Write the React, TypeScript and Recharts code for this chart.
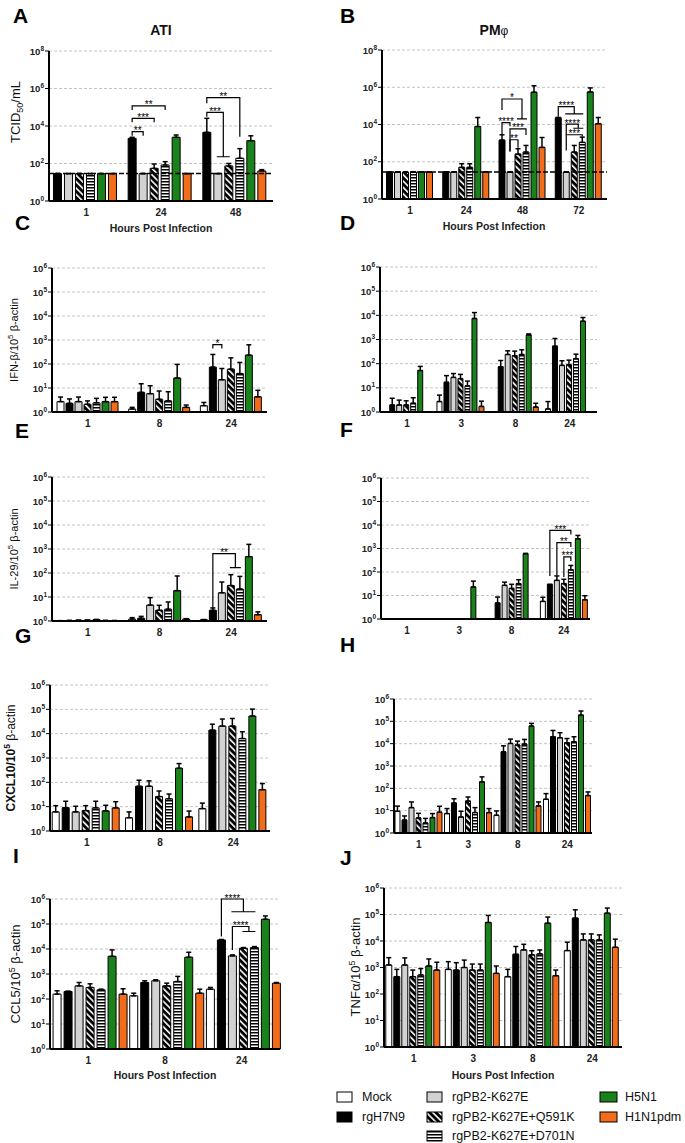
import React from "react";
import { Bar, BarChart, ErrorBar, Rectangle, ReferenceLine, XAxis, YAxis } from "recharts";

const FONT = '"Liberation Sans", Arial, Helvetica, sans-serif';

const SERIES = ["Mock", "rgH7N9", "rgPB2-K627E", "rgPB2-K627E+Q591K", "rgPB2-K627E+D701N", "H5N1", "H1N1pdm"];
const FILLS = ["#ffffff", "#000000", "#d2d2d2", "url(#diag)", "url(#hstripe)", "#1a821a", "#f26c1a"];

// titre panels have no mock bar
const VIRUSES = [1, 2, 3, 4, 5, 6];
const ALL = [0, 1, 2, 3, 4, 5, 6];

type Sig = { at: number; from: number; to: number[]; top: number; l: number; r: number; text: string };

// A - ATI, TCID50/mL (rows: rgH7N9, K627E, +Q591K, +D701N, H5N1, H1N1pdm)
const A_TIMES = ["1", "24", "48"];
const A_MEAN = [
  [29, 2200, 4600],
  [29, 29, 29],
  [29, 55, 74],
  [29, 83, 190],
  [29, 2500, 1650],
  [29, 29, 40],
];
const A_HIGH = [
  [29, 2500, 25700],
  [29, 29, 29],
  [29, 94, 100],
  [29, 125, 620],
  [29, 3300, 3000],
  [29, 29, 47],
];
const A_LIMIT = 29;
// bracket levels are log10 values
const A_SIG: Sig[] = [
  { at: 1, from: 0, to: [1], top: 3.7, l: 3.48, r: 3.48, text: "**" },
  { at: 1, from: 0, to: [2], top: 4.41, l: 4.2, r: 4.2, text: "***" },
  { at: 1, from: 0, to: [3], top: 5.07, l: 4.85, r: 4.85, text: "**" },
  { at: 2, from: 0, to: [3], top: 5.51, l: 5.21, r: 3.43, text: "**" },
  { at: 2, from: 0, to: [1, 2], top: 4.73, l: 4.5, r: 2.36, text: "***" },
];

// B - PMphi, TCID50/mL
const B_TIMES = ["1", "24", "48", "72"];
const B_MEAN = [
  [28, 28, 1450, 23000],
  [28, 28, 28, 28],
  [28, 50, 257, 330],
  [28, 50, 330, 1100],
  [28, 7800, 540000, 560000],
  [28, 28, 590, 11000],
];
const B_HIGH = [
  [28, 28, 2800, 24000],
  [28, 28, 28, 28],
  [28, 78, 500, 750],
  [28, 78, 750, 2100],
  [28, 23700, 1200000, 920000],
  [28, 28, 2000, 23700],
];
const B_LIMIT = 28;
const B_SIG: Sig[] = [
  { at: 2, from: 0, to: [2, 3], top: 5.37, l: 4.78, r: 4.3, text: "*" },
  { at: 2, from: 0, to: [1], top: 4.1, l: 3.44, r: 3.9, text: "****" },
  { at: 2, from: 1, to: [3], top: 3.76, l: 2.55, r: 3.44, text: "***" },
  { at: 2, from: 1, to: [2], top: 3.18, l: 2.55, r: 2.75, text: "**" },
  { at: 3, from: 0, to: [1, 2, 3], top: 4.96, l: 4.42, r: 4.57, text: "****" },
  { at: 3, from: 1, to: [2, 3], top: 4.02, l: 3.44, r: 3.8, text: "****" },
  { at: 3, from: 1, to: [3], top: 3.45, l: 2.6, r: 3.36, text: "***" },
];

// C - ATI IFN-beta (rows: Mock, rgH7N9, K627E, +Q591K, +D701N, H5N1, H1N1pdm)
const C_TIMES = ["1", "8", "24"];
const C_MEAN = [
  [2.7, 1.33, 1.83],
  [2.3, 6.6, 74],
  [2.7, 5.8, 22],
  [2.1, 3.4, 61],
  [2.4, 2.9, 40],
  [2.7, 26, 234],
  [2.7, 1.56, 4.3],
];
const C_HIGH = [
  [4.2, 1.56, 2.5],
  [3.5, 15, 250],
  [4.2, 12.4, 65],
  [2.9, 7.5, 180],
  [3.7, 7, 116],
  [4.1, 96, 630],
  [4.1, 1.95, 8],
];
const C_SIG: Sig[] = [{ at: 2, from: 1, to: [2], top: 2.81, l: 2.65, r: 2.65, text: "*" }];

// D - PMphi IFN-beta
const D_TIMES = ["1", "3", "8", "24"];
const D_MEAN = [
  [1, 2.7, 1, 1.33],
  [1.95, 17, 74, 530],
  [1.95, 27, 240, 85],
  [1.95, 24, 213, 90],
  [2.3, 12, 240, 160],
  [52, 7400, 1550, 5700],
  [1, 1.7, 1.6, 1],
];
const D_HIGH = [
  [1, 5, 1, 2.7],
  [3.7, 32, 135, 1100],
  [3.1, 39, 340, 132],
  [2.9, 36, 330, 140],
  [3.9, 19, 375, 247],
  [77, 13000, 1700, 8100],
  [1, 2.8, 2.3, 1],
];

// E - ATI IL-29
const E_TIMES = ["1", "8", "24"];
const E_MEAN = [
  [1.03, 1.2, 1.14],
  [1.05, 1.3, 2.8],
  [1.07, 4.6, 15],
  [1.08, 2.8, 30],
  [1.15, 3.1, 21.5],
  [1.05, 18.4, 480],
  [1.04, 1.2, 1.83],
];
const E_HIGH = [
  [1.03, 1.38, 1.14],
  [1.05, 1.56, 3.5],
  [1.07, 9.4, 42],
  [1.08, 4.5, 85],
  [1.15, 6.2, 72],
  [1.05, 75, 1560],
  [1.04, 1.25, 2.4],
];
const E_SIG: Sig[] = [{ at: 2, from: 1, to: [3, 4], top: 2.81, l: 0.51, r: 2.22, text: "**" }];

// F - PMphi IL-29
const F_TIMES = ["1", "3", "8", "24"];
const F_MEAN = [
  [1, 1, 1, 5.6],
  [1, 1, 4.8, 29],
  [1, 1, 27, 44],
  [1, 1, 20, 32],
  [1, 1, 32, 125],
  [1, 23, 600, 2600],
  [1, 1, 1, 6.6],
];
const F_HIGH = [
  [1, 1, 1, 8.4],
  [1, 1, 8.6, 30],
  [1, 1, 37, 68],
  [1, 1, 30, 49],
  [1, 1, 47, 190],
  [1, 41, 620, 3600],
  [1, 1, 1, 9.8],
];
const F_SIG: Sig[] = [
  { at: 3, from: 1, to: [4], top: 3.77, l: 1.83, r: 3.6, text: "***" },
  { at: 3, from: 2, to: [4], top: 3.25, l: 1.86, r: 3.06, text: "**" },
  { at: 3, from: 3, to: [4], top: 2.64, l: 1.79, r: 2.47, text: "***" },
];

// G - ATI CXCL10
const G_TIMES = ["1", "8", "24"];
const G_MEAN = [
  [6.1, 3.5, 8.3],
  [9.1, 69, 14000],
  [6.1, 69, 20500],
  [6.9, 26, 20500],
  [8.9, 21, 6300],
  [6.7, 380, 53000],
  [8.9, 3.8, 50],
];
const G_HIGH = [
  [11, 6.1, 14],
  [16.7, 122, 24500],
  [10.4, 115, 40000],
  [11, 44, 42000],
  [16.7, 33, 12000],
  [11.4, 590, 102000],
  [16, 6.6, 89],
];

// H - PMphi CXCL10
const H_TIMES = ["1", "3", "8", "24"];
const H_MEAN = [
  [9.4, 7.4, 6.2, 32.5],
  [3.8, 22, 4300, 20500],
  [13.7, 5.2, 10200, 18400],
  [4.7, 27, 8700, 11000],
  [2.8, 8.2, 9600, 12200],
  [4.9, 195, 61000, 190000],
  [8.5, 8.2, 16.3, 47.5],
];
const H_HIGH = [
  [16, 12.4, 9.7, 58],
  [5.8, 34, 8000, 39000],
  [24.6, 9.4, 16000, 31000],
  [7.6, 41, 13000, 17000],
  [4.5, 13.7, 15500, 20400],
  [7.4, 325, 81000, 290000],
  [15.7, 12.4, 24.6, 69],
];

// I - ATI CCL5
const I_TIMES = ["1", "8", "24"];
const I_MEAN = [
  [157, 134, 247],
  [200, 457, 23000],
  [335, 535, 5300],
  [290, 335, 10700],
  [233, 500, 11400],
  [5100, 4700, 155000],
  [157, 171, 430],
];
const I_HIGH = [
  [213, 171, 290],
  [205, 535, 24000],
  [457, 590, 5800],
  [405, 430, 11400],
  [247, 800, 12500],
  [9200, 7400, 210000],
  [257, 247, 457],
];
const I_SIG: Sig[] = [
  { at: 2, from: 1, to: [2, 3, 4], top: 6.0, l: 4.5, r: 5.49, text: "****" },
  { at: 2, from: 2, to: [3, 4], top: 4.9, l: 3.96, r: 4.7, text: "****" },
];

// J - PMphi TNFalpha
const J_TIMES = ["1", "3", "8", "24"];
const J_MEAN = [
  [1240, 850, 450, 4350],
  [450, 800, 3150, 73000],
  [1240, 1000, 4600, 11000],
  [450, 800, 3000, 11000],
  [520, 800, 3250, 11000],
  [1140, 50000, 47000, 112000],
  [800, 600, 490, 5800],
];
const J_HIGH = [
  [2350, 1660, 850, 9000],
  [850, 1520, 6200, 150000],
  [2300, 1900, 7500, 18500],
  [800, 1350, 4300, 18500],
  [910, 1350, 4600, 17000],
  [2100, 92000, 80000, 175000],
  [1580, 1140, 800, 11700],
];

type Panel = {
  times: string[];
  mean: number[][];
  high: number[][];
  series: number[];
  box: [number, number, number, number]; // axis x, plot top, plot right, plot bottom
  decades: number;
  catGap: string;
  gap: number;
  sig?: Sig[];
  limit?: number;
};

const PANELS: Panel[] = [
  { times: A_TIMES, mean: A_MEAN, high: A_HIGH, series: VIRUSES, box: [49, 51, 273, 201], decades: 8, catGap: "6%", gap: 3, sig: A_SIG, limit: A_LIMIT },
  { times: B_TIMES, mean: B_MEAN, high: B_HIGH, series: VIRUSES, box: [382, 50, 607, 199], decades: 8, catGap: "8%", gap: 2, sig: B_SIG, limit: B_LIMIT },
  { times: C_TIMES, mean: C_MEAN, high: C_HIGH, series: ALL, box: [52, 268, 267, 412], decades: 6, catGap: "7%", gap: 2, sig: C_SIG },
  { times: D_TIMES, mean: D_MEAN, high: D_HIGH, series: ALL, box: [380, 267, 597, 412], decades: 6, catGap: "5%", gap: 2 },
  { times: E_TIMES, mean: E_MEAN, high: E_HIGH, series: ALL, box: [52, 477, 267, 621], decades: 6, catGap: "7%", gap: 2, sig: E_SIG },
  { times: F_TIMES, mean: F_MEAN, high: F_HIGH, series: ALL, box: [381, 478, 590, 619], decades: 6, catGap: "5%", gap: 2, sig: F_SIG },
  { times: G_TIMES, mean: G_MEAN, high: G_HIGH, series: ALL, box: [50, 685, 270, 831], decades: 6, catGap: "3%", gap: 3 },
  { times: H_TIMES, mean: H_MEAN, high: H_HIGH, series: ALL, box: [394, 699, 592, 833], decades: 6, catGap: "2%", gap: 2 },
  { times: I_TIMES, mean: I_MEAN, high: I_HIGH, series: ALL, box: [50, 899, 280, 1049], decades: 6, catGap: "4%", gap: 3, sig: I_SIG },
  { times: J_TIMES, mean: J_MEAN, high: J_HIGH, series: ALL, box: [384, 888, 622, 1047], decades: 6, catGap: "3%", gap: 2 },
];

const YW = 36;
const MT = 14;
const MR = 4;
const XH = 22;

// decade label + tick mark, hung on a reference line so every decade shows
function PowLabel({ viewBox, exp }: { viewBox?: any; exp: number }) {
  if (!viewBox) return null;
  const x = viewBox.x;
  const y = viewBox.y;
  return (
    <g>
      <line x1={x - 4} x2={x} y1={y} y2={y} stroke="#000" strokeWidth={1} />
      <text x={x - 5} y={y + 3.5} textAnchor="end" fontFamily={FONT} fontSize={9.5} fontWeight="bold" fill="#222">
        10
        <tspan dy={-4} fontSize={6.5}>
          {exp}
        </tspan>
      </text>
    </g>
  );
}

// last series draws its bar plus the significance brackets of its category
function sigShape(sigs: Sig[], last: number, gap: number, pxPerDec: number) {
  return function SigBar(props: any) {
    const { x, y, width, height, index } = props;
    const base = y + height;
    const step = width + gap;
    const cx = (k: number) => x + width / 2 - (last - k) * step;
    const py = (e: number) => base - e * pxPerDec;
    const here = sigs.filter((s) => s.at === index);
    return (
      <g>
        <Rectangle {...props} />
        {here.map((s, i) => {
          const x0 = cx(s.from);
          const g0 = cx(s.to[0]);
          const g1 = cx(s.to[s.to.length - 1]);
          const xe = (g0 + g1) / 2;
          let d = `M${x0},${py(s.l)}V${py(s.top)}H${xe}V${py(s.r)}`;
          if (s.to.length > 1) d += `M${g0 - 1},${py(s.r)}H${g1 + 1}`;
          return (
            <g key={i}>
              <path d={d} fill="none" stroke="#000" strokeWidth={1.2} />
              <text x={(x0 + xe) / 2} y={py(s.top) + 2.5} textAnchor="middle" fontFamily={FONT} fontSize={10} fill="#000" stroke="none">
                {s.text}
              </text>
            </g>
          );
        })}
      </g>
    );
  };
}

function LogPanel({ p }: { p: Panel }) {
  const [ax, top, right, bottom] = p.box;
  const plotH = bottom - top;
  const pxPerDec = plotH / p.decades;
  const last = p.series.length - 1;
  const data = p.times.map((t, i) => {
    const row: Record<string, any> = { time: t };
    p.series.forEach((_, k) => {
      row[`v${k}`] = p.mean[k][i];
      row[`e${k}`] = [0, Math.max(0, p.high[k][i] - p.mean[k][i])];
    });
    return row;
  });
  const ticks = p.decades === 8 ? [1, 1e2, 1e4, 1e6, 1e8] : [1, 1e1, 1e2, 1e3, 1e4, 1e5, 1e6];
  const w = YW + right - ax + MR;
  const h = MT + plotH + XH;
  const domain: [number, number] = [1, 10 ** p.decades];
  const margin = { top: MT, right: MR, left: 0, bottom: 0 };

  return (
    <div style={{ position: "absolute", left: ax - YW, top: top - MT, width: w, height: h }}>
      {/* back layer: dashed decade grid and decade labels */}
      <div style={{ position: "absolute", left: 0, top: 0 }}>
        <BarChart width={w} height={h} data={data} margin={margin}>
          <XAxis dataKey="time" height={XH} axisLine={false} tickLine={false} tick={false} />
          <YAxis type="number" scale="log" domain={domain} width={YW} axisLine={false} tickLine={false} tick={false} />
          <Bar dataKey="v0" fill="none" stroke="none" isAnimationActive={false} />
          {ticks.map((t) => (
            <ReferenceLine
              key={t}
              y={t}
              stroke={t === 1 ? "none" : "#c4c4c4"}
              strokeDasharray="3 2"
              label={(lp: any) => <PowLabel viewBox={lp.viewBox} exp={Math.round(Math.log10(t))} />}
            />
          ))}
        </BarChart>
      </div>
      {/* front layer: bars, error bars, axes */}
      <div style={{ position: "absolute", left: 0, top: 0 }}>
        <BarChart width={w} height={h} data={data} margin={margin} barCategoryGap={p.catGap} barGap={p.gap}>
          <XAxis
            dataKey="time"
            interval={0}
            height={XH}
            tickLine={false}
            axisLine={{ stroke: "#000", strokeWidth: 2 }}
            tick={{ fontSize: 10, fontWeight: "bold", fill: "#222", fontFamily: FONT }}
          />
          <YAxis type="number" scale="log" domain={domain} width={YW} tick={false} tickLine={false} axisLine={{ stroke: "#000", strokeWidth: 2 }} />
          {p.series.map((g, k) => {
            const extra = k === last && p.sig ? { shape: sigShape(p.sig, last, p.gap, pxPerDec) } : {};
            return (
              <Bar key={SERIES[g]} dataKey={`v${k}`} name={SERIES[g]} fill={FILLS[g]} stroke="#000" strokeWidth={1} isAnimationActive={false} {...extra}>
                <ErrorBar dataKey={`e${k}`} width={2.5} strokeWidth={1.5} stroke="#000" direction="y" isAnimationActive={false} />
              </Bar>
            );
          })}
          {p.limit ? <ReferenceLine y={p.limit} stroke="#000" strokeDasharray="5 2" strokeWidth={1.5} /> : null}
        </BarChart>
      </div>
    </div>
  );
}

const LETTERS: Array<[string, number, number]> = [
  ["A", 13, 23],
  ["B", 340, 23],
  ["C", 15, 230],
  ["D", 340, 230],
  ["E", 15, 438],
  ["F", 340, 437],
  ["G", 15, 643],
  ["H", 340, 652],
  ["I", 13, 863],
  ["J", 340, 865],
];

const HOURS: Array<[number, number]> = [
  [161, 232],
  [494, 230],
  [165, 1079],
  [503, 1079],
];

const LEGEND: Array<[number, number, number]> = [
  // series index, x, y centre
  [0, 337, 1097],
  [1, 337, 1117],
  [2, 427, 1097],
  [3, 427, 1117],
  [4, 427, 1136],
  [5, 600, 1097],
  [6, 600, 1117],
];

function Overlay() {
  return (
    <svg width={685} height={1143} style={{ position: "absolute", left: 0, top: 0, pointerEvents: "none" }} fontFamily={FONT}>
      {LETTERS.map(([t, x, y]) => (
        <text key={t} x={x} y={y} fontSize={21} fontWeight="bold" fill="#000">
          {t}
        </text>
      ))}
      <text x={161} y={35} textAnchor="middle" fontSize={14} fontWeight="bold" fill="#111">
        ATI
      </text>
      <text x={494} y={35} textAnchor="middle" fontSize={14} fontWeight="bold" fill="#111">
        PM<tspan fontSize={12} fontWeight="normal">φ</tspan>
      </text>
      {HOURS.map(([x, y], i) => (
        <text key={i} x={x} y={y} textAnchor="middle" fontSize={10.5} fontWeight="bold" fill="#222">
          Hours Post Infection
        </text>
      ))}

      <text transform="translate(20,112) rotate(-90)" textAnchor="middle" fontSize={13} fill="#111">
        TCID<tspan dy={3} fontSize={9}>50</tspan>
        <tspan dy={-3}>/mL</tspan>
      </text>
      <text transform="translate(18,340) rotate(-90)" textAnchor="middle" fontSize={11} fill="#111">
        IFN-β/10<tspan dy={-5} fontSize={8}>5</tspan>
        <tspan dy={5}> β-actin</tspan>
      </text>
      <text transform="translate(18,549) rotate(-90)" textAnchor="middle" fontSize={11} fill="#111">
        IL-29/10<tspan dy={-5} fontSize={8}>5</tspan>
        <tspan dy={5}> β-actin</tspan>
      </text>
      <text transform="translate(15,758) rotate(-90)" textAnchor="middle" fontSize={12} fontWeight="bold" fill="#111">
        CXCL10/10<tspan dy={-5} fontSize={8.5}>5</tspan>
        <tspan dy={5} fontWeight="normal"> β-actin</tspan>
      </text>
      <text transform="translate(20,974) rotate(-90)" textAnchor="middle" fontSize={13} fill="#111">
        CCL5/10<tspan dy={-5} fontSize={9}>5</tspan>
        <tspan dy={5}> β-actin</tspan>
      </text>
      <text transform="translate(360,967) rotate(-90)" textAnchor="middle" fontSize={13} fill="#111">
        TNFα/10<tspan dy={-5} fontSize={9}>5</tspan>
        <tspan dy={5}> β-actin</tspan>
      </text>

      {LEGEND.map(([s, x, y]) => (
        <g key={s}>
          <rect x={x} y={y - 5} width={s >= 5 ? 17 : 15} height={10} fill={FILLS[s]} stroke="#000" strokeWidth={1} />
          <text x={x + 25} y={y + 4} fontSize={12.5} fill="#111">
            {SERIES[s]}
          </text>
        </g>
      ))}
    </svg>
  );
}

export default function App() {
  return (
    <div style={{ position: "absolute", left: 0, top: 0, width: 685, height: 1143, background: "#fff", fontFamily: FONT, fontSize: 12, overflow: "hidden" }}>
      <svg width={0} height={0} style={{ position: "absolute" }}>
        <defs>
          <pattern id="diag" patternUnits="userSpaceOnUse" width={4.5} height={4.5} patternTransform="rotate(-45)">
            <rect width={4.5} height={4.5} fill="#000" />
            <rect width={1.6} height={4.5} fill="#fff" />
          </pattern>
          <pattern id="hstripe" patternUnits="userSpaceOnUse" width={4} height={3}>
            <rect width={4} height={3} fill="#000" />
            <rect y={1.5} width={4} height={1.5} fill="#fff" />
          </pattern>
        </defs>
      </svg>
      {PANELS.map((p, i) => (
        <LogPanel key={i} p={p} />
      ))}
      <Overlay />
    </div>
  );
}
